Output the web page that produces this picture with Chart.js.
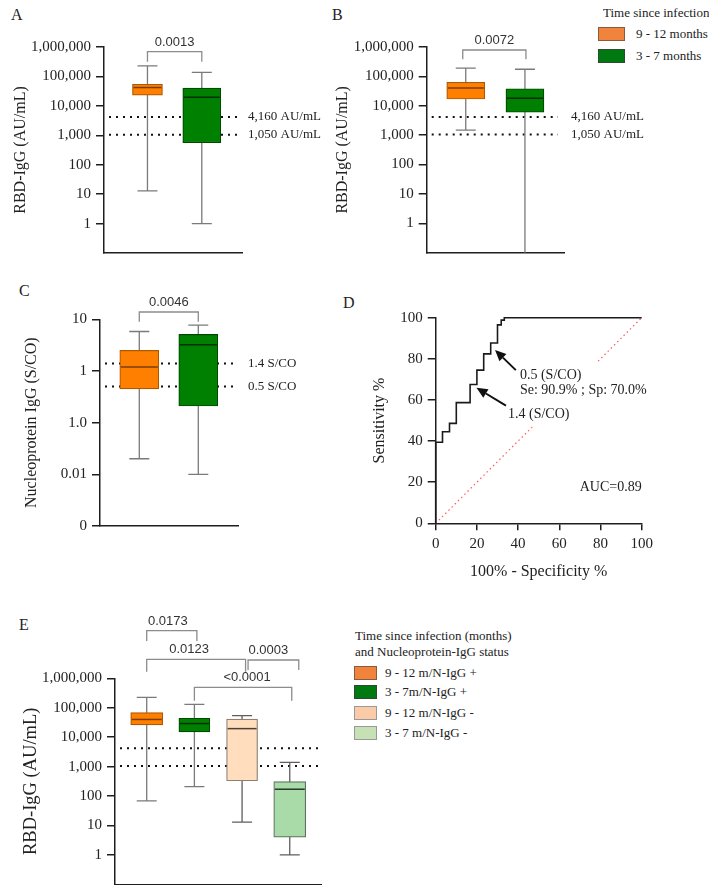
<!DOCTYPE html>
<html>
<head>
<meta charset="utf-8">
<script src="https://cdn.jsdelivr.net/npm/chart.js@4.4.1/dist/chart.umd.min.js"></script>
<style>
  body { margin: 0; width: 709px; height: 885px; position: relative; background: #fff; overflow: hidden;
         font-family: "Liberation Serif", "Times New Roman", serif; color: #222; }
  canvas { position: absolute; }
  .t { position: absolute; white-space: nowrap; font-size: 13px; line-height: 16px; }
  .letter { position: absolute; font-size: 16px; line-height: 16px; }
  .sw { position: absolute; box-sizing: border-box; border: 1px solid #777; }
</style>
</head>
<body>
<div class="letter" style="left:11px;top:7px">A</div>
<div class="letter" style="left:332px;top:7px">B</div>
<div class="letter" style="left:19px;top:283px">C</div>
<div class="letter" style="left:343px;top:295px">D</div>
<div class="letter" style="left:19px;top:617px">E</div>

<div class="t" style="left:603px;top:5px">Time since infection</div>
<div class="sw" style="left:598px;top:27px;width:27px;height:14px;background:#F0843C;border-color:#8a5a3a"></div>
<div class="t" style="left:636px;top:26px">9 - 12 months</div>
<div class="sw" style="left:598px;top:49px;width:27px;height:14px;background:#007A10;border-color:#2f4a2f"></div>
<div class="t" style="left:636px;top:48px">3 - 7 months</div>

<div class="t" style="left:355px;top:628px">Time since infection (months)</div>
<div class="t" style="left:355px;top:644px">and Nucleoprotein-IgG status</div>
<div class="sw" style="left:354px;top:666px;width:23px;height:14px;background:#F0843C;border-color:#8a5a3a"></div>
<div class="t" style="left:385px;top:665px">9 - 12 m/N-IgG +</div>
<div class="sw" style="left:354px;top:685px;width:23px;height:14px;background:#007A10;border-color:#2f4a2f"></div>
<div class="t" style="left:385px;top:684px">3 - 7m/N-IgG +</div>
<div class="sw" style="left:354px;top:706px;width:23px;height:14px;background:#FACBA6;border-color:#999"></div>
<div class="t" style="left:385px;top:705px">9 - 12 m/N-IgG -</div>
<div class="sw" style="left:354px;top:726px;width:23px;height:14px;background:#C6E2B5;border-color:#999"></div>
<div class="t" style="left:385px;top:725px">3 - 7 m/N-IgG -</div>

<canvas id="chartA" width="330" height="270" style="left:0;top:0"></canvas>
<canvas id="chartB" width="379" height="270" style="left:330px;top:0"></canvas>
<canvas id="chartC" width="330" height="260" style="left:0;top:280px"></canvas>
<canvas id="chartD" width="379" height="305" style="left:330px;top:280px"></canvas>
<canvas id="chartE" width="340" height="315" style="left:0;top:570px"></canvas>

<script>
// ---- values ----
const rbdTicks = [1, 10, 100, 1000, 10000, 100000, 1000000];
const rbdTickLabels = ['1', '10', '100', '1,000', '10,000', '100,000', '1,000,000'];
const nucTicks = [0.001, 0.01, 0.1, 1, 10];
const nucTickLabels = ['0', '0.01', '1.0', '1', '10'];

const timeGroups = ['9 - 12 months', '3 - 7 months'];
// five-number summaries: [min, q1, median, q3, max]
const rbdA_late = [13, 23000, 42000, 54000, 230000];
const rbdA_early = [1, 560, 19500, 40000, 138000];
const rbdB_late = [1480, 17000, 40000, 63000, 190000];
const rbdB_early = [0.1, 6000, 18000, 38000, 175000];
const nucC_late = [0.02, 0.45, 1.2, 2.5, 5.8];
const nucC_early = [0.01, 0.21, 3.2, 5.1, 7.7];

const statusGroups = ['9 - 12 m/N-IgG +', '3 - 7m/N-IgG +', '9 - 12 m/N-IgG -', '3 - 7 m/N-IgG -'];
const rbdE_latePos = [68, 26000, 40000, 68000, 226000];
const rbdE_earlyPos = [210, 15000, 29000, 44000, 131000];
const rbdE_lateNeg = [13, 330, 19500, 41000, 54000];
const rbdE_earlyNeg = [1, 4, 170, 310, 1400];

const rbdCutoffs = [4160, 1050];
const rbdCutoffLabels = ['4,160 AU/mL', '1,050 AU/mL'];
const nucCutoffs = [1.4, 0.5];
const nucCutoffLabels = ['1.4 S/CO', '0.5 S/CO'];

const pA = ['0.0013'];
const pB = ['0.0072'];
const pC = ['0.0046'];
const pE = ['0.0173', '0.0123', '0.0003', '<0.0001'];
const pairsE = [[0, 1], [0, 2], [2, 3], [1, 3]];

const rocFpr = [0, 0, 3.3, 6.7, 10, 16.7, 20, 23.3, 26.7, 30, 31.8, 33.3, 100];
const rocSens = [0, 39.4, 44.5, 48.6, 58.7, 67.5, 74.5, 82.4, 87.7, 96.5, 98.8, 100, 100];
const chanceLine = [0, 100];
const rocAuc = 'AUC=0.89';

// ---- styles ----
const SERIF = '"Liberation Serif", "Times New Roman", serif';
const SANS = '"Liberation Sans", Arial, sans-serif';
const AXIS = '#1e1e1e';
const orange = { fill: '#FF8000', border: '#B05800', median: '#7A3D00', whisker: '#7a7a7a' };
const green = { fill: '#008000', border: '#004A00', median: '#002E00', whisker: '#7a7a7a' };
const paleOrange = { fill: '#FFDDBD', border: '#8f7f72', median: '#4a4038', whisker: '#5e5e5e' };
const paleGreen = { fill: '#A9DBA9', border: '#5d735d', median: '#2b3a2b', whisker: '#5e5e5e' };

Chart.defaults.font.family = SERIF;
Chart.defaults.color = '#222';

// whiskers, medians, cut-off lines and p-value brackets
const boxPlot = {
  id: 'boxPlot',
  beforeDatasetsDraw(chart, args, o) {
    const { ctx, chartArea: a, scales: { y } } = chart;
    ctx.save();
    (o.cutoffs || []).forEach((v, i) => {
      const py = y.getPixelForValue(v);
      ctx.setLineDash([2, 5]);
      ctx.lineWidth = 2;
      ctx.strokeStyle = '#111';
      ctx.beginPath();
      ctx.moveTo(a.left + 5, py);
      ctx.lineTo(a.right + (o.extend || 0), py);
      ctx.stroke();
      if (o.cutoffLabels) {
        ctx.fillStyle = '#222';
        ctx.font = '13px ' + SERIF;
        ctx.textAlign = 'left';
        ctx.textBaseline = 'middle';
        ctx.fillText(o.cutoffLabels[i], a.right + o.labelGap, py);
      }
    });
    ctx.setLineDash([]);
    chart.data.datasets.forEach((ds, i) => {
      const bar = chart.getDatasetMeta(i).data[0];
      const top = y.getPixelForValue(ds.stats[4]);
      const bot = y.getPixelForValue(ds.stats[0]);
      const cap = 10;
      ctx.strokeStyle = ds.whiskerColor;
      ctx.lineWidth = 1.3;
      ctx.beginPath();
      ctx.moveTo(bar.x, top); ctx.lineTo(bar.x, bot);
      ctx.moveTo(bar.x - cap, top); ctx.lineTo(bar.x + cap, top);
      if (bot < a.bottom - 1) { ctx.moveTo(bar.x - cap, bot); ctx.lineTo(bar.x + cap, bot); }
      ctx.stroke();
    });
    ctx.restore();
  },
  afterDatasetsDraw(chart, args, o) {
    const { ctx, chartArea: a, scales: { x, y } } = chart;
    ctx.save();
    chart.data.datasets.forEach((ds, i) => {
      const bar = chart.getDatasetMeta(i).data[0];
      const py = y.getPixelForValue(ds.stats[2]);
      ctx.strokeStyle = ds.medianColor;
      ctx.lineWidth = 1.5;
      ctx.beginPath();
      ctx.moveTo(bar.x - bar.width / 2 + 1, py);
      ctx.lineTo(bar.x + bar.width / 2 - 1, py);
      ctx.stroke();
    });
    (o.brackets || []).forEach(b => {
      const xa = x.getPixelForValue(b.pair[0]) + (b.da || 0);
      const xb = x.getPixelForValue(b.pair[1]) + (b.db || 0);
      const yl = a.top + b.line, yg = a.top + b.leg;
      ctx.strokeStyle = '#8c8c8c';
      ctx.lineWidth = 1.3;
      ctx.beginPath();
      ctx.moveTo(xa, yg); ctx.lineTo(xa, yl); ctx.lineTo(xb, yl); ctx.lineTo(xb, yg);
      ctx.stroke();
      ctx.fillStyle = '#333';
      ctx.font = '13px ' + SANS;
      ctx.textAlign = 'center';
      ctx.textBaseline = 'bottom';
      ctx.fillText(b.p, (xa + xb) / 2 + (b.tx || 0), yl - 3);
    });
    ctx.restore();
  }
};

function boxChart(id, cfg) {
  const datasets = cfg.stats.map((s, i) => ({
    label: cfg.groups[i],
    data: [{ x: i, y: [s[1], s[3]] }],
    stats: s,
    backgroundColor: cfg.styles[i].fill,
    borderColor: cfg.styles[i].border,
    medianColor: cfg.styles[i].median,
    whiskerColor: cfg.styles[i].whisker,
    borderWidth: 1.2,
    borderSkipped: false,
    barThickness: cfg.widths[i],
    grouped: false
  }));
  return new Chart(document.getElementById(id), {
    type: 'bar',
    data: { datasets },
    plugins: [boxPlot],
    options: {
      responsive: false,
      animation: false,
      events: [],
      layout: { padding: cfg.padding },
      plugins: {
        legend: { display: false },
        tooltip: { enabled: false },
        boxPlot: {
          cutoffs: cfg.cutoffs, cutoffLabels: cfg.cutoffLabels, labelGap: cfg.labelGap,
          extend: cfg.extend, brackets: cfg.brackets
        }
      },
      scales: {
        x: {
          type: 'linear', min: cfg.xRange[0], max: cfg.xRange[1], offset: false,
          ticks: { display: false }, grid: { display: false },
          border: { color: AXIS, width: 1.5 },
          afterFit: s => { s.height = 0; s.paddingLeft = 0; s.paddingRight = 0; }
        },
        y: {
          type: 'logarithmic', min: cfg.yMin, max: cfg.ticks[cfg.ticks.length - 1],
          afterBuildTicks: s => { s.ticks = cfg.ticks.map(v => ({ value: v })); },
          afterFit: s => { s.width = cfg.yWidth; s.paddingTop = 0; s.paddingBottom = 0; },
          ticks: {
            callback: v => cfg.tickLabels[cfg.ticks.indexOf(v)],
            font: { family: SERIF, size: 15 }, color: '#222', padding: 5
          },
          grid: { drawOnChartArea: false, tickLength: 8, color: AXIS, lineWidth: 1.5 },
          border: { color: AXIS, width: 1.5 },
          title: {
            display: true, text: cfg.title, color: '#222',
            font: { family: SERIF, size: cfg.titleSize },
            padding: { top: cfg.titlePad, bottom: 0 }
          }
        }
      }
    }
  });
}

boxChart('chartA', {
  groups: timeGroups, stats: [rbdA_late, rbdA_early], styles: [orange, green], widths: [30, 38],
  ticks: rbdTicks, tickLabels: rbdTickLabels, yMin: 0.1, xRange: [-0.8, 1.74], yWidth: 104,
  padding: { top: 47, right: 88, bottom: 17, left: 0 },
  title: 'RBD-IgG (AU/mL)', titleSize: 16, titlePad: 11,
  cutoffs: rbdCutoffs, cutoffLabels: rbdCutoffLabels, labelGap: 6, extend: 0,
  brackets: [{ pair: [0, 1], p: pA[0], line: 4.7, leg: 14.7 }]
});

boxChart('chartB', {
  groups: timeGroups, stats: [rbdB_late, rbdB_early], styles: [orange, green], widths: [38, 38],
  ticks: rbdTicks, tickLabels: rbdTickLabels, yMin: 0.1, xRange: [-0.66, 1.66], yWidth: 96.7,
  padding: { top: 47, right: 145, bottom: 17.3, left: 0 },
  title: 'RBD-IgG (AU/mL)', titleSize: 16, titlePad: 3.5,
  cutoffs: rbdCutoffs, cutoffLabels: rbdCutoffLabels, labelGap: 7, extend: -6,
  brackets: [{ pair: [0, 1], p: pB[0], line: 3, leg: 12.3, da: -3, db: 1 }]
});

boxChart('chartC', {
  groups: timeGroups, stats: [nucC_late, nucC_early], styles: [orange, green], widths: [39, 39],
  ticks: nucTicks, tickLabels: nucTickLabels, yMin: 0.001, xRange: [-0.666, 1.673], yWidth: 100,
  padding: { top: 39.3, right: 92, bottom: 14, left: 0 },
  title: 'Nucleoprotein IgG (S/CO)', titleSize: 16, titlePad: 22,
  cutoffs: nucCutoffs, cutoffLabels: nucCutoffLabels, labelGap: 10, extend: 0,
  brackets: [{ pair: [0, 1], p: pC[0], line: -7.3, leg: 2.4 }]
});

boxChart('chartE', {
  groups: statusGroups, stats: [rbdE_latePos, rbdE_earlyPos, rbdE_lateNeg, rbdE_earlyNeg],
  styles: [orange, green, paleOrange, paleGreen], widths: [32, 31, 31, 32],
  ticks: rbdTicks, tickLabels: rbdTickLabels, yMin: 0.1, xRange: [-0.665, 3.67], yWidth: 115,
  padding: { top: 108.3, right: 18.3, bottom: 0.7, left: 0 },
  title: 'RBD-IgG (AU/mL)', titleSize: 18.5, titlePad: 20.5,
  cutoffs: rbdCutoffs, extend: 0,
  brackets: [
    { pair: pairsE[0], p: pE[0], line: -47.6, leg: -37.3, db: 2.5, tx: -4 },
    { pair: pairsE[1], p: pE[1], line: -19, leg: -6.6, db: 3.5, tx: -7 },
    { pair: pairsE[2], p: pE[2], line: -18.3, leg: -8.3, da: 6, db: 9, tx: -5 },
    { pair: pairsE[3], p: pE[3], line: 9, leg: 22.4, db: 2, tx: 4 }
  ]
});

// ROC notes: labels with white backing and arrows, in data coordinates
const rocNotes = {
  id: 'rocNotes',
  afterDatasetsDraw(chart, args, o) {
    const { ctx, scales: { x, y } } = chart;
    ctx.save();
    ctx.font = '14px ' + SERIF;
    o.notes.forEach(n => {
      const lh = 15;
      const px = x.getPixelForValue(n.x), py = y.getPixelForValue(n.y);
      const w = Math.max(...n.lines.map(t => ctx.measureText(t).width));
      const left = n.align === 'right' ? px - w : px;
      if (n.bg) {
        ctx.fillStyle = '#fff';
        ctx.fillRect(left - 5, py - lh / 2 - 5, w + 10, lh * n.lines.length + 10);
      }
      ctx.fillStyle = '#222';
      ctx.textAlign = 'left';
      ctx.textBaseline = 'middle';
      n.lines.forEach((t, k) => ctx.fillText(t, left, py + k * lh));
    });
    o.arrows.forEach(ar => {
      const x1 = x.getPixelForValue(ar.from[0]), y1 = y.getPixelForValue(ar.from[1]);
      const x2 = x.getPixelForValue(ar.to[0]), y2 = y.getPixelForValue(ar.to[1]);
      const ang = Math.atan2(y2 - y1, x2 - x1);
      const hl = 11, hw = 5;
      const bx = x2 - hl * Math.cos(ang), by = y2 - hl * Math.sin(ang);
      ctx.strokeStyle = '#111';
      ctx.lineWidth = 2;
      ctx.beginPath();
      ctx.moveTo(x1, y1); ctx.lineTo(bx, by);
      ctx.stroke();
      ctx.fillStyle = '#111';
      ctx.beginPath();
      ctx.moveTo(x2, y2);
      ctx.lineTo(bx + hw * Math.sin(ang), by - hw * Math.cos(ang));
      ctx.lineTo(bx - hw * Math.sin(ang), by + hw * Math.cos(ang));
      ctx.closePath();
      ctx.fill();
    });
    ctx.restore();
  }
};

new Chart(document.getElementById('chartD'), {
  type: 'line',
  data: {
    datasets: [
      {
        label: 'ROC', data: rocFpr.map((v, i) => ({ x: v, y: rocSens[i] })),
        stepped: true, borderColor: '#1a1a1a', borderWidth: 1.6, pointRadius: 0, clip: 4
      },
      {
        label: 'Chance', data: chanceLine.map(v => ({ x: v, y: v })),
        borderColor: '#ff5a5a', borderWidth: 1.2, borderDash: [1.5, 3], pointRadius: 0
      }
    ]
  },
  plugins: [rocNotes],
  options: {
    responsive: false,
    animation: false,
    events: [],
    layout: { padding: { top: 37.7, right: 67.3, bottom: 0, left: 0 } },
    plugins: {
      legend: { display: false },
      tooltip: { enabled: false },
      rocNotes: {
        notes: [
          { x: 40.9, y: 72.1, lines: ['0.5 (S/CO)', 'Se: 90.9% ; Sp: 70.0%'], bg: true },
          { x: 35.1, y: 53.2, lines: ['1.4 (S/CO)'], bg: true },
          { x: 100, y: 17.7, lines: [rocAuc], align: 'right' }
        ],
        arrows: [
          { from: [38.9, 74.5], to: [28.8, 84.3] },
          { from: [34.1, 57.2], to: [19.8, 65.9] }
        ]
      }
    },
    scales: {
      x: {
        type: 'linear', min: 0, max: 100,
        ticks: { stepSize: 20, font: { family: SERIF, size: 15 }, color: '#222', padding: 5 },
        grid: { drawOnChartArea: false, tickLength: 7, color: AXIS, lineWidth: 1.5 },
        border: { color: AXIS, width: 1.5 },
        title: {
          display: true, text: '100% - Specificity %', color: '#222',
          font: { family: SERIF, size: 16 }, padding: { top: 0, bottom: 3.7 }
        },
        afterFit: s => { s.height = 61.7; s.paddingLeft = 0; s.paddingRight = 0; }
      },
      y: {
        type: 'linear', min: 0, max: 100,
        ticks: { stepSize: 20, font: { family: SERIF, size: 15 }, color: '#222', padding: 5 },
        grid: { drawOnChartArea: false, tickLength: 8, color: AXIS, lineWidth: 1.5 },
        border: { color: AXIS, width: 1.5 },
        title: {
          display: true, text: 'Sensitivity %', color: '#222',
          font: { family: SERIF, size: 16 }, padding: { top: 40.4, bottom: 0 }
        },
        afterFit: s => { s.width = 105.7; s.paddingTop = 0; s.paddingBottom = 0; }
      }
    }
  }
});
</script>
</body>
</html>
